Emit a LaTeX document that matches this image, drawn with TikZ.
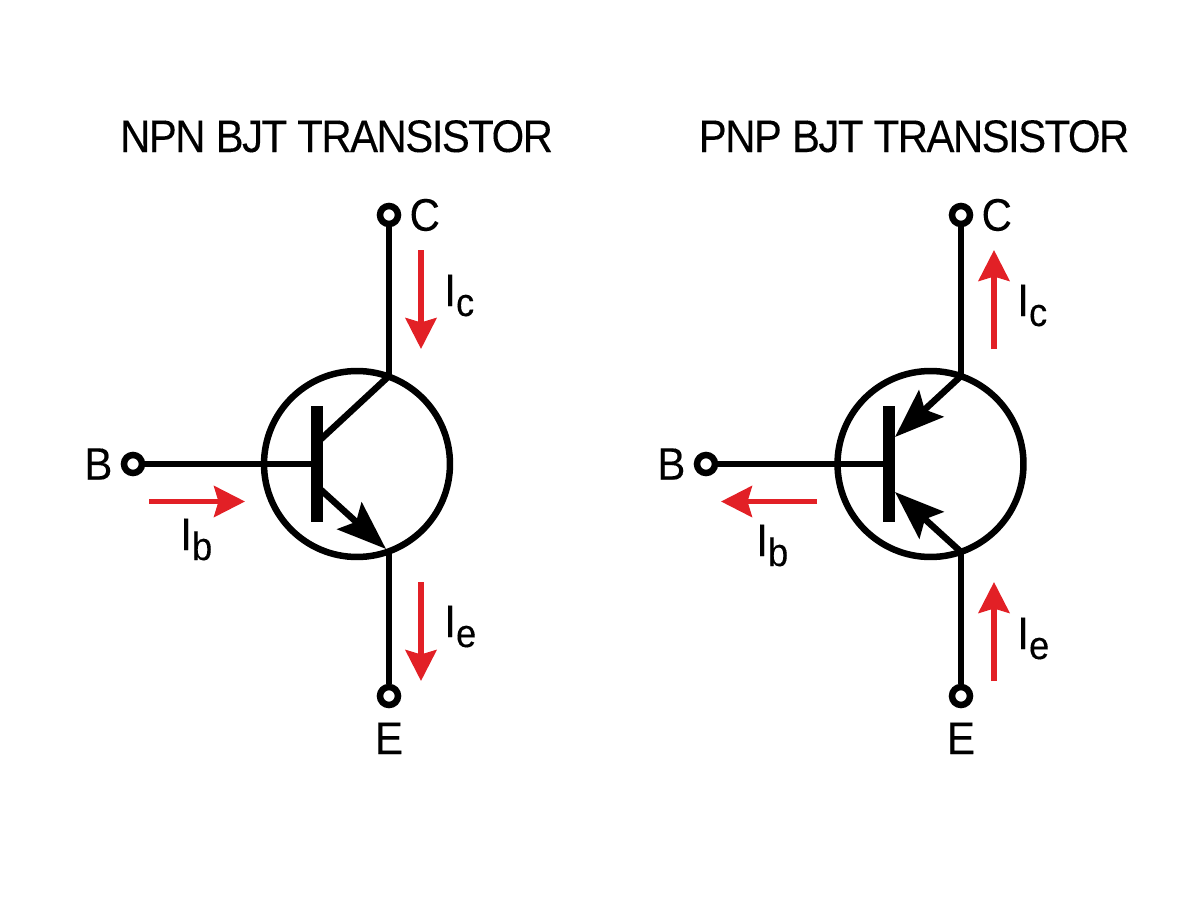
\documentclass[tikz,border=0pt]{standalone}
\usepackage{fontspec}
\setmainfont[FakeStretch=0.92,LetterSpace=-3.5,FakeBold=0.2]{Liberation Sans}
\usetikzlibrary{positioning}
\usetikzlibrary{arrows.meta}
\definecolor{currentred}{RGB}{226,32,38}
\newcommand{\lowpart}[1]{\raisebox{-5.7pt}{\fontsize{22.5pt}{22.5pt}\selectfont #1}}
\tikzset{%
  wire/.style = {draw=black,line width=3.7pt},
  bigarrow/.style = {wire,-{Stealth[length=28pt,width=20.5pt,inset=5pt]}},
  current/.style = {draw=currentred,line width=3.1pt,
        -{Stealth[length=17.6pt,width=17.6pt,inset=2.5pt]}},
  body/.style = {circle,draw,line width=3.7pt,inner sep=0pt,
        minimum size=3.72cm},
  term/.style = {circle,draw,fill=white,line width=3.7pt,inner sep=0pt,
        minimum size=0.36cm},
  bar/.style = {rectangle,fill=black,inner sep=0pt,minimum width=0.24cm,
        minimum height=2.34cm},
  lab/.style = {inner sep=0pt,font=\fontsize{26pt}{26pt}\selectfont},
  headline/.style = {inner sep=0pt,anchor=base,font=\fontsize{26pt}{26pt}\selectfont}
}

\begin{document}
\begin{tikzpicture}[x=0.02cm,y=-0.02cm,node distance=0.16cm]
    \useasboundingbox (0,0) rectangle (1200,896);

    % npn
    \node[headline] (npn-title) at (336.5,152) {NPN BJT TRANSISTOR};
    \node[body] (npn) at (357,464) {};
    \node[bar] (npn-bar) at (317,464) {};
    \node[term] (npn-c) at (389,215) {};
    \node[term] (npn-e) at (389,696) {};
    \node[term] (npn-b) at (133,464) {};
    \coordinate (npn-cj) at (389,376);
    \coordinate (npn-ej) at (389,552);
    \coordinate (npn-tip) at (386,549);
    \coordinate (npn-cb) at (320,440);
    \coordinate (npn-eb) at (320,489);

    \node[lab] (npn-c-l) [right=of npn-c] {C};
    \node[lab] (npn-b-l) [left=0.16cm of npn-b] {B};
    \node[lab] (npn-e-l) [below=0.28cm of npn-e] {E};

    \draw[wire] (npn-c) -- (npn-cj);
    \draw[wire] (npn-e) -- (npn-ej);
    \draw[wire] (npn-b) -- (npn-bar);
    \draw[wire] (npn-cb) -- (npn-cj);
    \draw[bigarrow] (npn-eb) -- (npn-tip);

    \coordinate (npn-ic-a) at (421,250);
    \coordinate (npn-ic-b) at (421,349);
    \coordinate (npn-ie-a) at (421,582);
    \coordinate (npn-ie-b) at (421,681);
    \coordinate (npn-ib-a) at (149,501.5);
    \coordinate (npn-ib-b) at (245,501.5);
    \draw[current] (npn-ic-a) -- (npn-ic-b);
    \draw[current] (npn-ie-a) -- (npn-ie-b);
    \draw[current] (npn-ib-a) -- (npn-ib-b);
    \node[lab,anchor=base west] (npn-ic-l) at (444,306) {I\lowpart{c}};
    \node[lab,anchor=base west] (npn-ie-l) at (444,637) {I\lowpart{e}};
    \node[lab,anchor=base west] (npn-ib-l) at (180,550) {I\lowpart{b}};

    % pnp
    \node[headline] (pnp-title) at (914,152) {PNP BJT TRANSISTOR};
    \node[body] (pnp) at (930.5,464) {};
    \node[bar] (pnp-bar) at (889,464) {};
    \node[term] (pnp-c) at (961,215) {};
    \node[term] (pnp-e) at (961,696) {};
    \node[term] (pnp-b) at (706,464) {};
    \coordinate (pnp-cj) at (961,376);
    \coordinate (pnp-ej) at (961,552);
    \coordinate (pnp-cb) at (895,437);
    \coordinate (pnp-eb) at (895,492);

    \node[lab] (pnp-c-l) [right=of pnp-c] {C};
    \node[lab] (pnp-b-l) [left=0.16cm of pnp-b] {B};
    \node[lab] (pnp-e-l) [below=0.28cm of pnp-e] {E};

    \draw[wire] (pnp-c) -- (pnp-cj);
    \draw[wire] (pnp-e) -- (pnp-ej);
    \draw[wire] (pnp-b) -- (pnp-bar);
    \draw[bigarrow] (pnp-cj) -- (pnp-cb);
    \draw[bigarrow] (pnp-ej) -- (pnp-eb);

    \coordinate (pnp-ic-a) at (994,349);
    \coordinate (pnp-ic-b) at (994,250);
    \coordinate (pnp-ie-a) at (994,681);
    \coordinate (pnp-ie-b) at (994,582);
    \coordinate (pnp-ib-a) at (817,501.5);
    \coordinate (pnp-ib-b) at (721,501.5);
    \draw[current] (pnp-ic-a) -- (pnp-ic-b);
    \draw[current] (pnp-ie-a) -- (pnp-ie-b);
    \draw[current] (pnp-ib-a) -- (pnp-ib-b);
    \node[lab,anchor=base west] (pnp-ic-l) at (1017,316) {I\lowpart{c}};
    \node[lab,anchor=base west] (pnp-ie-l) at (1017,649) {I\lowpart{e}};
    \node[lab,anchor=base west] (pnp-ib-l) at (756,556) {I\lowpart{b}};
\end{tikzpicture}
\end{document}
